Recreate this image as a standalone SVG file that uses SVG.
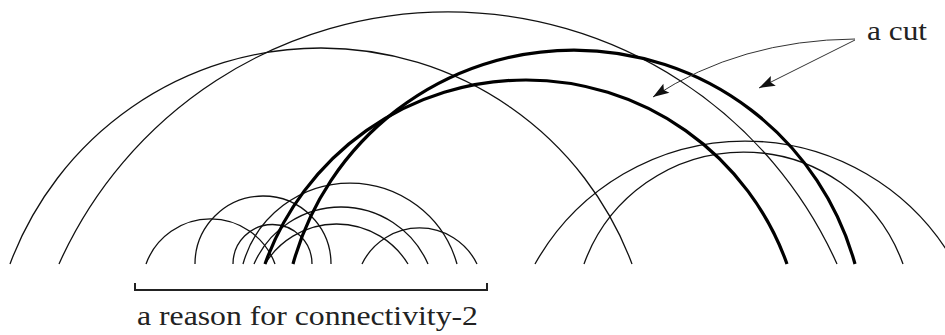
<svg xmlns="http://www.w3.org/2000/svg" width="945" height="335" viewBox="0 0 945 335">
<style>
.thin{fill:none;stroke:#111;stroke-width:1.3}
.thick{fill:none;stroke:#000;stroke-width:3.2}
.lbl{font-family:'Liberation Serif','DejaVu Serif',serif;fill:#222}
.ptr{fill:none;stroke:#333;stroke-width:1}
</style>
<defs>
<marker id="ah" markerUnits="userSpaceOnUse" markerWidth="20" markerHeight="14" viewBox="-17 -7 19 14" refX="0" refY="0" orient="auto">
<path d="M0,0 L-16,-5.5 L-13,0 L-16,5.5 Z" fill="#111"/>
</marker>
</defs>
<rect width="945" height="335" fill="#fff"/>
<g id="connectors">
<g id="thin-arcs">
<path id="arcA" class="thin" d="M10,264 A331.9,331.9 0 0 1 632,264"/>
<path id="arcB" class="thin" d="M59,264 A426.2,426.2 0 0 1 837,264"/>
<path id="arcC" class="thin" d="M535,264 A240.8,240.8 0 0 1 955,264"/>
<path id="arcD" class="thin" d="M584,264 A169.6,169.6 0 0 1 903,264"/>
<path id="arc1" class="thin" d="M146,264 A68.7,68.7 0 0 1 275,264"/>
<path id="arc2" class="thin" d="M195,264 A68,68 0 0 1 331,264"/>
<path id="arc3" class="thin" d="M233,264 A39.5,39.5 0 0 1 312,264"/>
<path id="arc4" class="thin" d="M243,264 A111.2,111.2 0 0 1 457,264"/>
<path id="arc5" class="thin" d="M254,264 A94.9,94.9 0 0 1 428,264"/>
<path id="arc6" class="thin" d="M265,264 A83.9,83.9 0 0 1 408,264"/>
<path id="arc7" class="thin" d="M362,264 A63.9,63.9 0 0 1 477,264"/>
</g>
<g id="cut-arcs">
<path id="cut1" class="thick" d="M265,264 A277.1,277.1 0 0 1 787,264"/>
<path id="cut2" class="thick" d="M293,264 A291.5,291.5 0 0 1 855,264"/>
</g>
<g id="pointers">
<path class="ptr" d="M855,39 Q740,40 653,97" marker-end="url(#ah)"/>
<path class="ptr" d="M855,40 L759,88" marker-end="url(#ah)"/>
</g>
</g>
<g id="bracket">
<path d="M135,283 V290 H487 V283" fill="none" stroke="#222" stroke-width="2"/>
</g>
<g id="label-cut">
<text class="lbl" font-size="27" x="867" y="40" textLength="60" lengthAdjust="spacingAndGlyphs">a cut</text>
</g>
<g id="label-reason">
<text class="lbl" font-size="28" x="137" y="325" textLength="341" lengthAdjust="spacingAndGlyphs">a reason for connectivity-2</text>
</g>
</svg>
